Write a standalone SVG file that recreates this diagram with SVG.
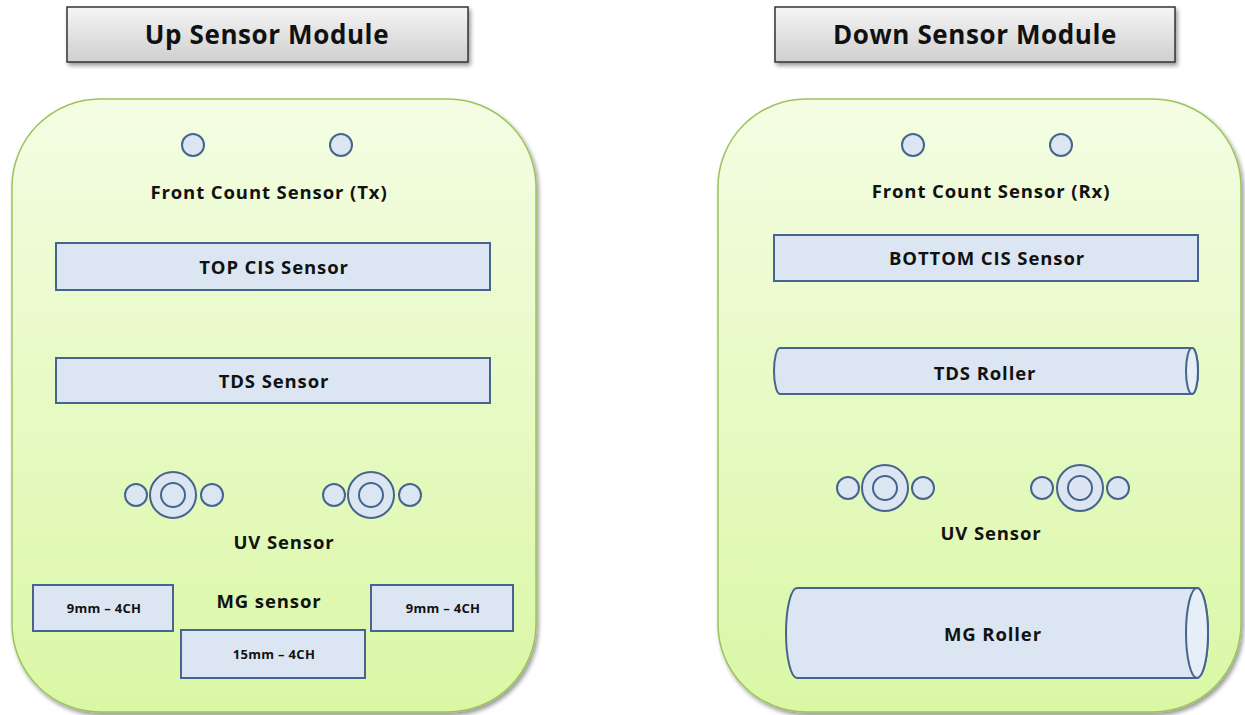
<svg xmlns="http://www.w3.org/2000/svg" width="1245" height="715" viewBox="0 0 1245 715">
<defs>
<linearGradient id="pg" x1="0" y1="0" x2="0" y2="1">
<stop offset="0" stop-color="#f4fde3"/>
<stop offset="1" stop-color="#daf7a5"/>
</linearGradient>
<linearGradient id="hg" x1="0" y1="0" x2="0" y2="1">
<stop offset="0" stop-color="#f5f5f5"/>
<stop offset="1" stop-color="#cfcfcf"/>
</linearGradient>
<filter id="sh" x="-10%" y="-10%" width="130%" height="130%">
<feGaussianBlur in="SourceAlpha" stdDeviation="2"/>
<feOffset dx="2" dy="3" result="b"/>
<feComponentTransfer><feFuncA type="linear" slope="0.4"/></feComponentTransfer>
<feMerge><feMergeNode/><feMergeNode in="SourceGraphic"/></feMerge>
</filter>
</defs>
<style>
text{font-family:"Open Sans",Lato,"Liberation Sans",sans-serif;font-weight:bold;fill:#111;text-anchor:middle}
.panel{fill:url(#pg);stroke:#9cc45c;stroke-width:1.5}
.hdr{fill:url(#hg);stroke:#333;stroke-width:1.5}
.box{fill:#dce6f2;stroke:#45658f;stroke-width:2}
.end{fill:#e8eef7;stroke:#45658f;stroke-width:2}
.t26{font-size:26px;letter-spacing:0.6px}
.t19{font-size:18.5px;letter-spacing:0.9px}
.t13{font-size:13px;letter-spacing:0.3px}
</style>
<g id="up-header">
<rect class="hdr" x="67" y="7" width="401" height="55" filter="url(#sh)"/>
<text class="t26" x="267" y="44">Up Sensor Module</text>
</g>
<g id="down-header">
<rect class="hdr" x="775" y="7" width="400" height="55" filter="url(#sh)"/>
<text class="t26" x="975" y="44">Down Sensor Module</text>
</g>
<g id="up-panel">
<rect class="panel" x="12" y="99" width="524" height="613" rx="88" ry="88" filter="url(#sh)"/>
</g>
<g id="down-panel">
<rect class="panel" x="718" y="99" width="523" height="613" rx="88" ry="88" filter="url(#sh)"/>
</g>
<g id="front-count-tx">
<circle class="box" cx="193" cy="145" r="11"/>
<circle class="box" cx="341" cy="145" r="11"/>
<text class="t19" x="269" y="199">Front Count Sensor (Tx)</text>
</g>
<g id="top-cis">
<rect class="box" x="56" y="243" width="434" height="47"/>
<text class="t19" x="274" y="274">TOP CIS Sensor</text>
</g>
<g id="tds-sensor">
<rect class="box" x="56" y="358" width="434" height="45"/>
<text class="t19" x="274" y="388">TDS Sensor</text>
</g>
<g id="uv-up">
<circle class="box" cx="136" cy="495" r="11"/>
<circle class="box" cx="173" cy="495" r="23"/>
<circle class="box" cx="173" cy="495" r="12"/>
<circle class="box" cx="212" cy="495" r="11"/>
<circle class="box" cx="334" cy="495" r="11"/>
<circle class="box" cx="371" cy="495" r="23"/>
<circle class="box" cx="371" cy="495" r="12"/>
<circle class="box" cx="410" cy="495" r="11"/>
<text class="t19" x="284" y="549">UV Sensor</text>
</g>
<g id="mg-sensor">
<text class="t19" x="269" y="608">MG sensor</text>
<rect class="box" x="33" y="585" width="140" height="46"/>
<text class="t13" x="104" y="613">9mm – 4CH</text>
<rect class="box" x="371" y="585" width="142" height="46"/>
<text class="t13" x="443" y="613">9mm – 4CH</text>
<rect class="box" x="181" y="630" width="184" height="48"/>
<text class="t13" x="274" y="659">15mm – 4CH</text>
</g>
<g id="front-count-rx">
<circle class="box" cx="913" cy="145" r="11"/>
<circle class="box" cx="1061" cy="145" r="11"/>
<text class="t19" x="991" y="198">Front Count Sensor (Rx)</text>
</g>
<g id="bottom-cis">
<rect class="box" x="774" y="235" width="424" height="46"/>
<text class="t19" x="987" y="265">BOTTOM CIS Sensor</text>
</g>
<g id="tds-roller">
<path class="box" d="M780,348 L1192,348 A6,23 0 0 1 1192,394 L780,394 A6,23 0 0 1 780,348 Z"/>
<ellipse class="end" cx="1192" cy="371" rx="6" ry="23"/>
<text class="t19" x="985" y="380">TDS Roller</text>
</g>
<g id="uv-down">
<circle class="box" cx="848" cy="488" r="11"/>
<circle class="box" cx="885" cy="488" r="23"/>
<circle class="box" cx="885" cy="488" r="12"/>
<circle class="box" cx="923" cy="488" r="11"/>
<circle class="box" cx="1042" cy="488" r="11"/>
<circle class="box" cx="1080" cy="488" r="23"/>
<circle class="box" cx="1080" cy="488" r="12"/>
<circle class="box" cx="1118" cy="488" r="11"/>
<text class="t19" x="991" y="540">UV Sensor</text>
</g>
<g id="mg-roller">
<path class="box" d="M797,588 L1197,588 A11,45 0 0 1 1197,678 L797,678 A11,45 0 0 1 797,588 Z"/>
<ellipse class="end" cx="1197" cy="633" rx="11" ry="45"/>
<text class="t19" x="993" y="641">MG Roller</text>
</g>
<g id="connectors"/>
</svg>
